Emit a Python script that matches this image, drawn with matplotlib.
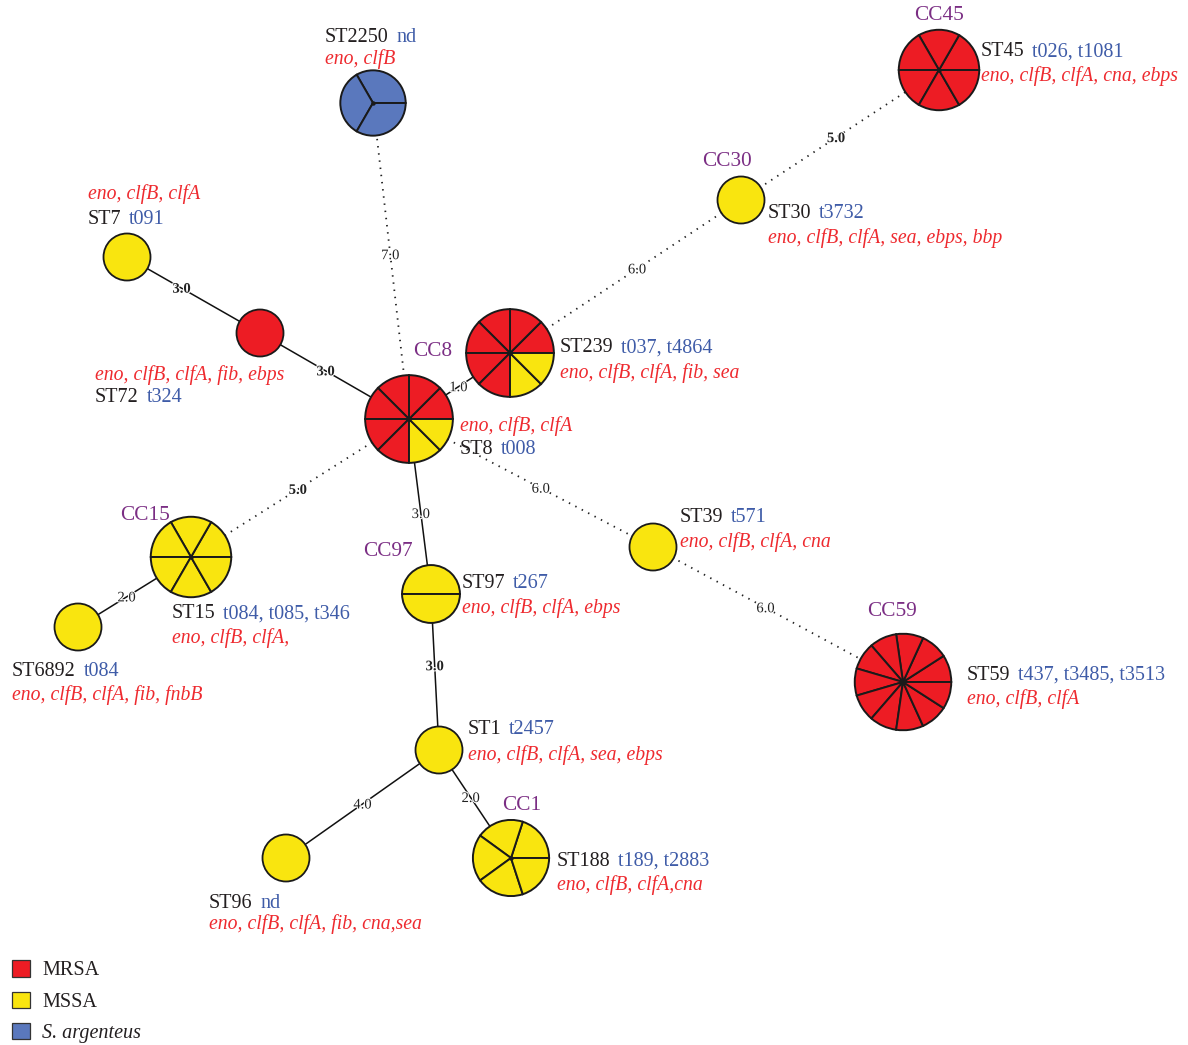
import matplotlib
matplotlib.use("Agg")
import matplotlib.pyplot as plt
from matplotlib.patches import Wedge, Circle, Patch
import matplotlib.patheffects as pe

plt.rcParams['font.family'] = ['Liberation Serif', 'DejaVu Serif']

# ---- data: sequence types, isolate counts per group, spa types, genes ----
st_names = ['ST8', 'ST239', 'ST2250', 'ST45', 'ST30', 'ST7', 'ST72', 'ST15',
            'ST6892', 'ST97', 'ST39', 'ST59', 'ST1', 'ST96', 'ST188']
n_mrsa = [6, 6, 0, 6, 0, 0, 1, 0, 0, 0, 0, 11, 0, 0, 0]
n_mssa = [2, 2, 0, 0, 1, 1, 0, 6, 1, 2, 1, 0, 1, 1, 5]
n_sarg = [0, 0, 3, 0, 0, 0, 0, 0, 0, 0, 0, 0, 0, 0, 0]
spa_types = ['t008', 't037, t4864', 'nd', 't026, t1081', 't3732', 't091', 't324',
             't084, t085, t346', 't084', 't267', 't571', 't437, t3485, t3513',
             't2457', 'nd', 't189, t2883']
genes = ['eno, clfB, clfA', 'eno, clfB, clfA, fib, sea', 'eno, clfB',
         'eno, clfB, clfA, cna, ebps', 'eno, clfB, clfA, sea, ebps, bbp',
         'eno, clfB, clfA', 'eno, clfB, clfA, fib, ebps', 'eno, clfB, clfA,',
         'eno, clfB, clfA, fib, fnbB', 'eno, clfB, clfA, ebps', 'eno, clfB, clfA, cna',
         'eno, clfB, clfA', 'eno, clfB, clfA, sea, ebps',
         'eno, clfB, clfA, fib, cna,sea', 'eno, clfB, clfA,cna']
clonal_complexes = {'ST8': 'CC8', 'ST45': 'CC45', 'ST30': 'CC30', 'ST15': 'CC15',
                    'ST97': 'CC97', 'ST59': 'CC59', 'ST188': 'CC1'}

# minimum spanning tree edges: (from, to, allelic distance)
edges = [('ST7', 'ST72', 3.0), ('ST72', 'ST8', 3.0), ('ST2250', 'ST8', 7.0),
         ('ST8', 'ST239', 1.0), ('ST239', 'ST30', 6.0), ('ST30', 'ST45', 5.0),
         ('ST8', 'ST15', 5.0), ('ST15', 'ST6892', 2.0), ('ST8', 'ST97', 3.0),
         ('ST97', 'ST1', 3.0), ('ST1', 'ST96', 4.0), ('ST1', 'ST188', 2.0),
         ('ST8', 'ST39', 6.0), ('ST39', 'ST59', 6.0)]

group_labels = ['MRSA', 'MSSA', 'S. argenteus']

# ---- layout (canvas units, y downward) ----
node_pos = {'ST8': (409, 419), 'ST239': (510, 353), 'ST2250': (373, 103),
            'ST45': (939, 70), 'ST30': (741, 200), 'ST7': (127, 257),
            'ST72': (260, 333), 'ST15': (191, 557), 'ST6892': (78, 627),
            'ST97': (431, 594), 'ST39': (653, 547), 'ST59': (903, 682),
            'ST1': (439, 750), 'ST96': (286, 858), 'ST188': (511, 858)}
name_pos = {'ST8': (460, 448), 'ST239': (560, 346), 'ST2250': (325, 36),
            'ST45': (981, 50), 'ST30': (768, 212), 'ST7': (88, 217),
            'ST72': (95, 396), 'ST15': (172, 612), 'ST6892': (12, 669),
            'ST97': (462, 582), 'ST39': (680, 516), 'ST59': (967, 673),
            'ST1': (468, 728), 'ST96': (209, 901), 'ST188': (557, 859)}
gene_pos = {'ST8': (460, 424), 'ST239': (560, 371), 'ST2250': (325, 57),
            'ST45': (981, 74), 'ST30': (768, 236), 'ST7': (88, 192),
            'ST72': (95, 373), 'ST15': (172, 636), 'ST6892': (12, 693),
            'ST97': (462, 606), 'ST39': (680, 540), 'ST59': (967, 697),
            'ST1': (468, 753), 'ST96': (209, 922), 'ST188': (557, 883)}
cc_pos = {'CC8': (433, 349), 'CC45': (939, 14), 'CC30': (727, 159),
          'CC15': (145, 513), 'CC97': (388, 549), 'CC59': (892, 610),
          'CC1': (522, 804)}
# where along each edge its distance label sits, and which labels are heavier
label_frac = [0.41, 0.44, 0.48, 0.49, 0.55, 0.48, 0.51, 0.57, 0.54, 0.46,
              0.50, 0.44, 0.54, 0.45]
heavy_labels = {0, 1, 5, 6, 9}

group_colors = ['#ED1C24', '#F9E50F', '#5A78BD']
spa_color = '#3F5CA8'
gene_color = '#EE2A2F'
cc_color = '#7B2E84'
FS = 14.5      # upright labels
FS_IT = 14.2   # italic gene lists
TY = 2         # nudges the visual text centre onto the listed y

fig = plt.figure(figsize=(11.88, 10.45), dpi=100)
ax = fig.add_axes([0, 0, 1, 1])
ax.set_xlim(0, 1188)
ax.set_ylim(1045, 0)
ax.set_aspect('equal')
ax.axis('off')

# edges
for k, (a, b, d) in enumerate(edges):
    (x0, y0), (x1, y1) = node_pos[a], node_pos[b]
    if d >= 5:
        ax.plot([x0, x1], [y0, y1], color='#222222', lw=1.3,
                ls=(0, (0.8, 3.2)), zorder=1)
    else:
        ax.plot([x0, x1], [y0, y1], color='#111111', lw=1.1, zorder=1)
    t = label_frac[k]
    lx, ly = x0 + t * (x1 - x0), y0 + t * (y1 - y0)
    heavy = k in heavy_labels
    ax.text(lx, ly + 1, f'{d:.1f}', fontsize=10.5, ha='center', va='center',
            color='#222222', fontweight='bold' if heavy else 'normal', zorder=2,
            path_effects=[pe.withStroke(linewidth=1.5, foreground='white')])

# nodes as pie charts, one slice per isolate
for i, st in enumerate(st_names):
    cx, cy = node_pos[st]
    counts = [n_mrsa[i], n_mssa[i], n_sarg[i]]
    total = sum(counts)
    r = 23.5 * total ** 0.3
    if total == 1:
        col = group_colors[[c > 0 for c in counts].index(True)]
        ax.add_patch(Circle((cx, cy), r, facecolor=col, edgecolor='#1a1a1a',
                            lw=1.3, zorder=3))
        continue
    step = 360.0 / total
    k = 0
    for g, c in enumerate(counts):
        for _ in range(c):
            # y axis is inverted: negative data angles run anticlockwise on screen
            ax.add_patch(Wedge((cx, cy), r, -(k + 1) * step, -k * step,
                               facecolor=group_colors[g], edgecolor='#1a1a1a',
                               lw=1.4, zorder=3))
            k += 1
    if total > 2:
        ax.plot(cx, cy, 'o', ms=2.2, color='#1a1a1a', zorder=4)

# labels
for i, st in enumerate(st_names):
    nx, ny = name_pos[st]
    tname = ax.text(nx, ny + TY, st, fontsize=FS, ha='left', va='center',
                    color='#231F20', zorder=5)
    ax.annotate(spa_types[i], xy=(1, 0.5), xycoords=tname, xytext=(5.5, 0),
                textcoords='offset points', fontsize=FS, ha='left', va='center',
                color=spa_color, zorder=5)
    gx, gy = gene_pos[st]
    ax.text(gx, gy + TY, genes[i], fontsize=FS_IT, ha='left', va='center',
            style='italic', color=gene_color, zorder=5)

for cc, (x, y) in cc_pos.items():
    ax.text(x, y + TY, cc, fontsize=15.3, ha='center', va='center',
            color=cc_color, zorder=5)

# legend
handles = [Patch(facecolor=c, edgecolor='#333333', lw=0.9) for c in group_colors]
leg = ax.legend(handles, group_labels, loc='lower left',
                bbox_to_anchor=(12 / 1188, 1 - 1043 / 1045), frameon=False,
                fontsize=FS, handlelength=0.88, handleheight=0.88,
                handletextpad=0.62, labelspacing=0.55, borderpad=0,
                borderaxespad=0)
for txt in leg.get_texts():
    txt.set_color('#231F20')
leg.get_texts()[2].set_style('italic')

fig.savefig('out.png', dpi=100)
